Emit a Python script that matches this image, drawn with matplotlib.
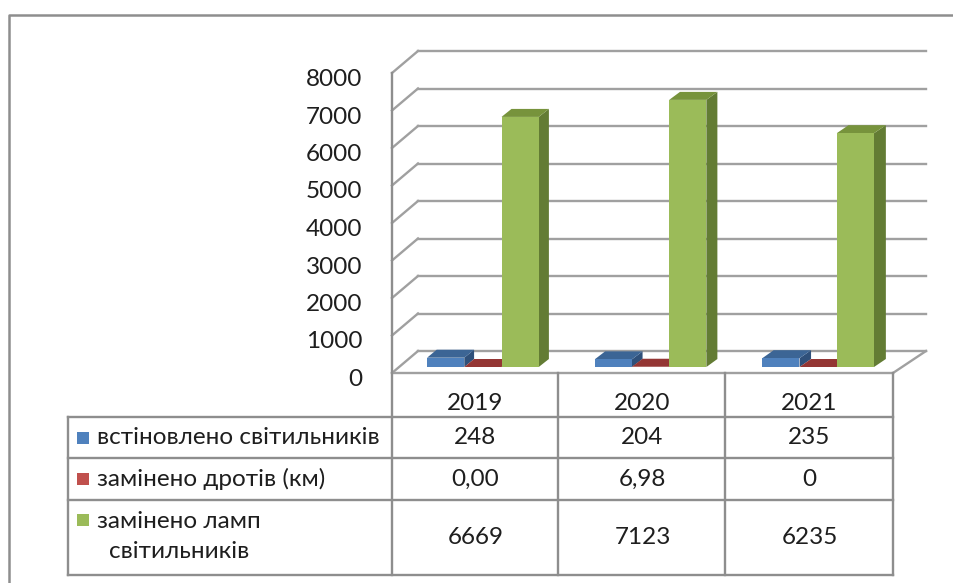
import matplotlib
matplotlib.use("Agg")
import matplotlib.pyplot as plt
from matplotlib.patches import Polygon, Rectangle
from matplotlib.lines import Line2D
from matplotlib.transforms import Affine2D, blended_transform_factory, ScaledTranslation

# ---------------- data ----------------
years = ["2019", "2020", "2021"]
installed = [248, 204, 235]          # встіновлено світильників
wires = [0.00, 6.98, 0]              # замінено дротів (км)
lamps = [6669, 7123, 6235]           # замінено ламп світильників
wires_text = ["0,00", "6,98", "0"]
series_names = ["встіновлено світильників", "замінено дротів (км)", "замінено ламп світильників"]
y_ticks = [0, 1000, 2000, 3000, 4000, 5000, 6000, 7000, 8000]

# ---------------- style ----------------
FONT = ["Lato", "DejaVu Sans"]
TXT = "#1e1e1e"
GRID = "#a0a0a0"
LINE = "#8e8e8e"
front_c = ["#4F81BD", "#C0504D", "#9BBB59"]
top_c = ["#3C6595", "#943634", "#77933C"]
side_c = ["#2F507A", "#772C2A", "#637C34"]

W, H = 954, 583
fig = plt.figure(figsize=(W / 100, H / 100), dpi=100)
pix = Affine2D().scale(1 / 100, -1 / 100).translate(0, H / 100) + fig.dpi_scale_trans

X0, X1 = 392, 893     # front plane, pixels
Y0, Y8 = 373, 73
ax = fig.add_axes([X0 / W, 1 - Y0 / H, (X1 - X0) / W, (Y0 - Y8) / H])
ax.set_xlim(-0.5, 2.5)
ax.set_ylim(0, 8000)
for s in ax.spines.values():
    s.set_visible(False)
ax.set_xticks([])
ax.set_yticks(y_ticks)
ax.set_yticklabels([str(v) for v in y_ticks], family=FONT, fontsize=17.5, color=TXT)
ax.tick_params(axis="y", length=0, pad=21.5)
for lab in ax.get_yticklabels():
    lab.set_transform(lab.get_transform() + ScaledTranslation(0, -4.5 / 100, fig.dpi_scale_trans))

xu = 3.0 / (X1 - X0)          # data units per pixel (x)
yu = 8000.0 / (Y0 - Y8)       # data units per pixel (y)
DEPTH_Y = 22                  # px


def dxpx(xd):
    return 26 + (xd + 0.5) / 3.0 * 7


def proj(xd, yd, d):
    return (xd + d * dxpx(xd) * xu, yd + d * DEPTH_Y * yu)


def line(pts, **kw):
    xs, ys = zip(*pts)
    ax.add_line(Line2D(xs, ys, clip_on=False, **kw))


# walls / grid
for v in y_ticks:
    line([proj(-0.5, v, 1), proj(2.5, v, 1)], color=GRID, lw=1.7, zorder=1)
    line([(-0.5, v), proj(-0.5, v, 1)], color=GRID, lw=1.7, zorder=1)
line([(-0.5, 0), (2.5, 0)], color=GRID, lw=1.7, zorder=1)
line([(2.5, 0), proj(2.5, 0, 1)], color=GRID, lw=1.7, zorder=1)

# bars
D1, D2 = 6 / 22, 14 / 22
BW = 0.222
series = [installed, wires, lamps]
for i in range(len(years)):
    for k, vals in enumerate(series):
        v = vals[i]
        xl = i + (k - 1.5) * BW
        xr = xl + BW
        shift = D1 * dxpx(xl) * xu
        bottom = D1 * DEPTH_Y * yu
        # side face
        p1 = proj(xr, 0, D1); p2 = proj(xr, v, D1)
        p3 = proj(xr, v, D2); p4 = proj(xr, 0, D2)
        ax.add_patch(Polygon([p1, p2, p3, p4], closed=True, fc=side_c[k], ec="none",
                             clip_on=False, zorder=3 + i * 3 + k * 0.1))
        # top face
        t1 = proj(xl, v, D1); t2 = proj(xr, v, D1); t3 = proj(xr, v, D2); t4 = proj(xl, v, D2)
        ax.add_patch(Polygon([t1, t2, t3, t4], closed=True, fc=top_c[k], ec="none",
                             clip_on=False, zorder=3 + i * 3 + k * 0.1 + 0.01))
        # front face
        ax.bar(xl + shift, v, width=BW, bottom=bottom, align="edge", color=front_c[k],
               linewidth=0, clip_on=False, zorder=3 + i * 3 + k * 0.1 + 0.02)

# ---------------- frame ----------------
fig.add_artist(Line2D([9, 9, W + 5], [H + 5, 15, 15], transform=pix, color=LINE, lw=1.8))

# ---------------- data table ----------------
TL = 68
rows = [373, 417, 458, 500, 575]
cols = [X0, 558, 725, X1]
fig.add_artist(Line2D([X0, X0], [Y8, 575], transform=pix, color=LINE, lw=1.7))
for c in cols[1:]:
    fig.add_artist(Line2D([c, c], [373, 575], transform=pix, color=LINE, lw=1.7))
fig.add_artist(Line2D([TL, TL], [417, 575], transform=pix, color=LINE, lw=1.7))
for r in rows[1:]:
    fig.add_artist(Line2D([TL, X1], [r, r], transform=pix, color=LINE, lw=1.7))

colT = blended_transform_factory(ax.transData, pix)
FS = 17.5
for i, y in enumerate(years):
    ax.text(i, 404, y, transform=colT, ha="center", va="center", family=FONT,
            fontsize=FS, color=TXT, clip_on=False)
row_vals = [[str(v) for v in installed], wires_text, [str(v) for v in lamps]]
row_centers = [437.5, 479, 537.5]
for r, vals in enumerate(row_vals):
    for i, s in enumerate(vals):
        ax.text(i, row_centers[r], s, transform=colT, ha="center", va="center",
                family=FONT, fontsize=FS, color=TXT, clip_on=False)

# legend keys and row labels
key_y = [437.5, 479, 520]
for k in range(3):
    fig.add_artist(Rectangle((77, key_y[k] - 6), 12, 12, transform=pix,
                             fc=front_c[k], ec="none"))
fig.text(97 / W, 1 - 437.5 / H, series_names[0], ha="left", va="center",
         family=FONT, fontsize=FS, color=TXT)
fig.text(97 / W, 1 - 479 / H, series_names[1], ha="left", va="center",
         family=FONT, fontsize=FS, color=TXT)
w3 = series_names[2].split(" ")
fig.text(97 / W, 1 - 521 / H, " ".join(w3[:2]), ha="left", va="center",
         family=FONT, fontsize=FS, color=TXT)
fig.text(109 / W, 1 - 552 / H, w3[2], ha="left", va="center",
         family=FONT, fontsize=FS, color=TXT)

fig.savefig("out.png", dpi=100, facecolor="white")
